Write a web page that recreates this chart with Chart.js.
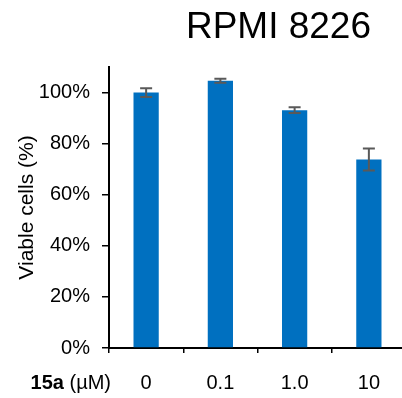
<!DOCTYPE html>
<html>
<head>
<meta charset="utf-8">
<script src="https://cdn.jsdelivr.net/npm/chart.js@4/dist/chart.umd.min.js"></script>
<style>
  html, body { margin: 0; padding: 0; background: #fff; overflow: hidden; }
  #wrap { position: relative; width: 406px; height: 398px; }
</style>
</head>
<body>
<div id="wrap"><canvas id="c"></canvas></div>
<script>
// Viability of RPMI 8226 cells after treatment with compound 15a
const doses = ['0', '0.1', '1.0', '10'];
const viability = [100, 104.6, 93.1, 73.8];   // mean, %
const viabilityErr = [1.7, 0.8, 1.1, 4.3];    // error, %
const yTicks = [0, 20, 40, 60, 80, 100];

const FONT = '"Liberation Sans", Arial, sans-serif';

// Error bars drawn from the value and error arrays through the chart's scales
const errorBars = {
  id: 'errorBars',
  afterDatasetsDraw(chart) {
    const { ctx, scales: { x, y } } = chart;
    ctx.save();
    ctx.strokeStyle = '#595959';
    ctx.lineWidth = 2;
    viability.forEach((v, i) => {
      const cx = x.getPixelForValue(i);
      const top = y.getPixelForValue(v + viabilityErr[i]);
      const bot = y.getPixelForValue(v - viabilityErr[i]);
      const half = 6;
      ctx.beginPath();
      ctx.moveTo(cx, top); ctx.lineTo(cx, bot);
      ctx.moveTo(cx - half, top); ctx.lineTo(cx + half, top);
      ctx.moveTo(cx - half, bot); ctx.lineTo(cx + half, bot);
      ctx.stroke();
    });
    ctx.restore();
  }
};

// Cell line heading and the compound/unit label beside the dose labels
const annotations = {
  id: 'annotations',
  afterDraw(chart) {
    const { ctx, chartArea, scales: { x } } = chart;
    ctx.save();
    ctx.fillStyle = '#000';
    ctx.textBaseline = 'alphabetic';
    ctx.textAlign = 'right';
    ctx.font = '37px ' + FONT;
    ctx.fillText('RPMI 8226', chartArea.right - 35, 38);

    const yLab = x.top + 5 + 18 + 12;
    ctx.textBaseline = 'middle';
    ctx.textAlign = 'left';
    ctx.font = 'bold 20px ' + FONT;
    const bold = '15a';
    const wb = ctx.measureText(bold).width;
    ctx.font = '20px ' + FONT;
    const rest = ' (µM)';
    const wr = ctx.measureText(rest).width;
    const xStart = chartArea.left + 2 - wb - wr;
    ctx.font = 'bold 20px ' + FONT;
    ctx.fillText(bold, xStart, yLab);
    ctx.font = '20px ' + FONT;
    ctx.fillText(rest, xStart + wb, yLab);
    ctx.restore();
  }
};

new Chart(document.getElementById('c'), {
  type: 'bar',
  data: {
    labels: doses,
    datasets: [{
      data: viability,
      backgroundColor: '#0070C0',
      borderWidth: 0,
      categoryPercentage: 1,
      barPercentage: 0.34
    }]
  },
  options: {
    responsive: true,
    maintainAspectRatio: false,
    animation: false,
    layout: { padding: { top: 67, bottom: 3, left: 0, right: 0 } },
    plugins: { legend: { display: false }, tooltip: { enabled: false }, title: { display: false } },
    scales: {
      x: {
        afterFit(scale) { scale.height = 47; },
        grid: { display: true, drawOnChartArea: false, drawTicks: true, tickLength: 5, color: '#000', lineWidth: 1.5, offset: true },
        border: { display: true, color: '#000', width: 2 },
        ticks: { color: '#000', font: { family: FONT, size: 20 }, padding: 18, maxRotation: 0 }
      },
      y: {
        min: 0,
        max: 110,
        afterBuildTicks(scale) {
          scale.ticks = yTicks.map(v => ({ value: v }));
        },
        afterFit(scale) { scale.width = 109; },
        grid: { display: true, drawOnChartArea: false, drawTicks: true, tickLength: 7, color: '#000', lineWidth: 1.5 },
        border: { display: true, color: '#000', width: 2 },
        ticks: {
          color: '#000',
          font: { family: FONT, size: 20 },
          padding: 12,
          callback: v => v + '%'
        },
        title: {
          display: true,
          text: 'Viable cells (%)',
          color: '#000',
          font: { family: FONT, size: 21 },
          padding: { top: 15, bottom: 0 }
        }
      }
    }
  },
  plugins: [errorBars, annotations]
});
</script>
</body>
</html>
